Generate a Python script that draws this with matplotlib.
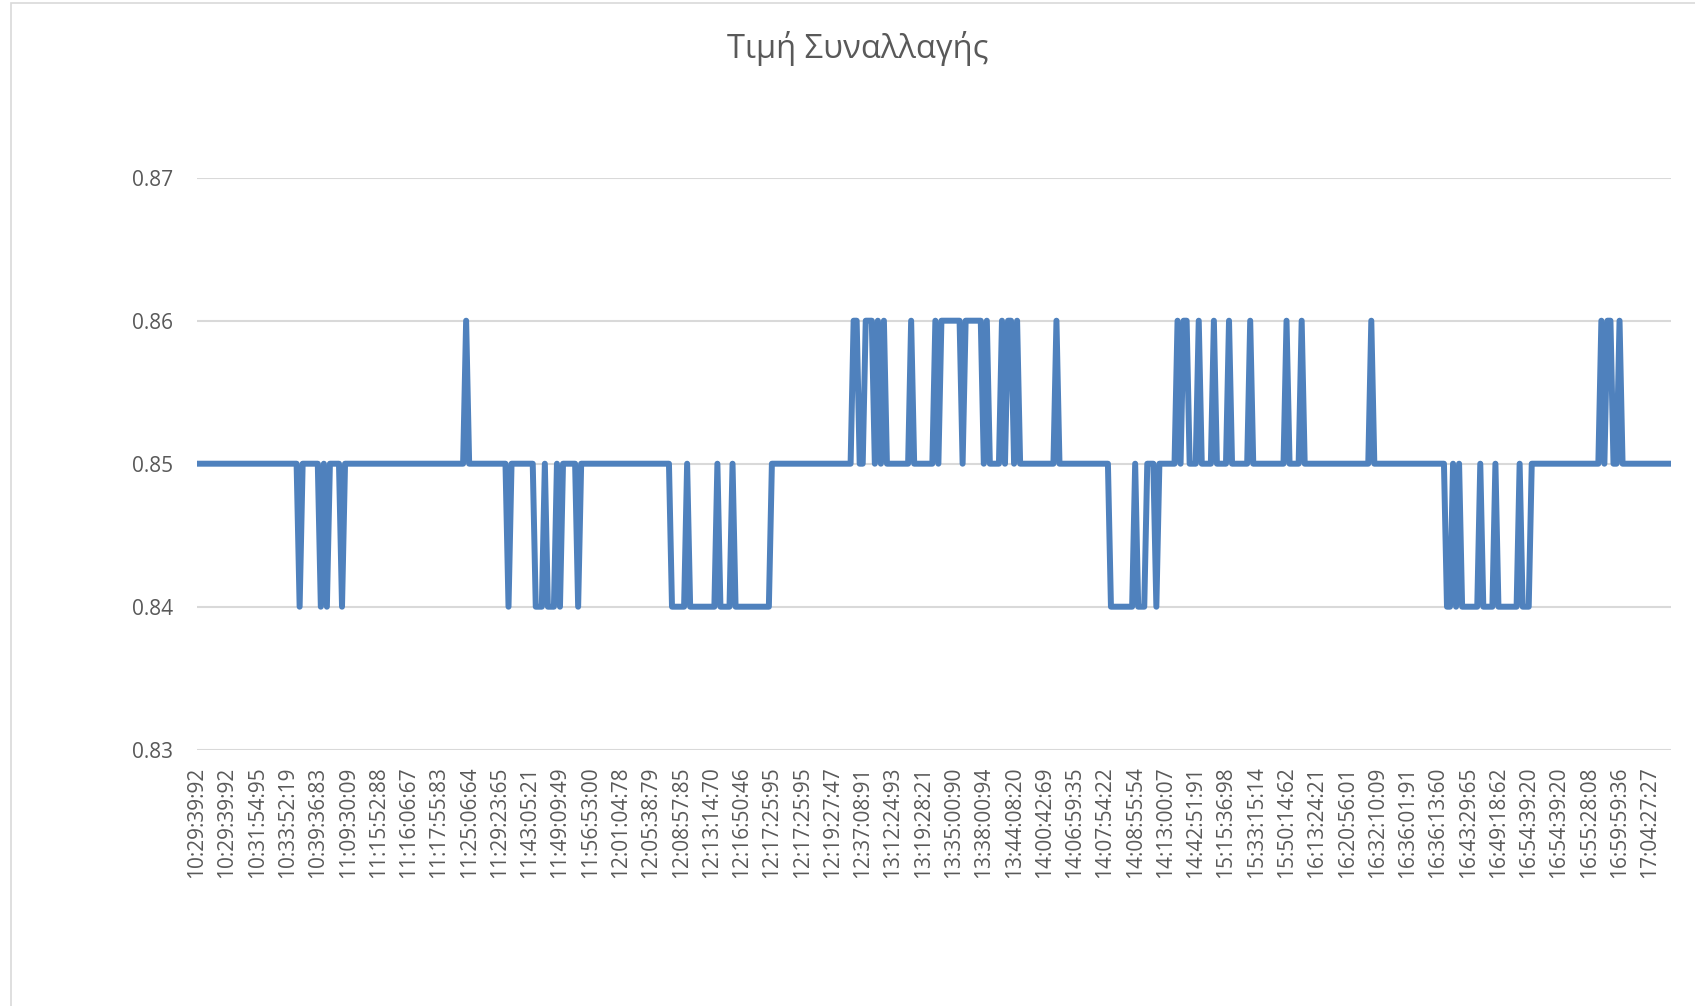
import matplotlib
matplotlib.use("Agg")
import matplotlib.pyplot as plt
from matplotlib.patches import Rectangle

# trade price per transaction (one value per trade, in order)
price = [
    0.85, 0.85, 0.85, 0.85, 0.85, 0.85, 0.85, 0.85, 0.85, 0.85,
    0.85, 0.85, 0.85, 0.85, 0.85, 0.85, 0.85, 0.85, 0.85, 0.85,
    0.85, 0.85, 0.85, 0.85, 0.85, 0.85, 0.85, 0.85, 0.85, 0.85,
    0.85, 0.85, 0.85, 0.85, 0.84, 0.85, 0.85, 0.85, 0.85, 0.85,
    0.85, 0.84, 0.85, 0.84, 0.85, 0.85, 0.85, 0.85, 0.84, 0.85,
    0.85, 0.85, 0.85, 0.85, 0.85, 0.85, 0.85, 0.85, 0.85, 0.85,
    0.85, 0.85, 0.85, 0.85, 0.85, 0.85, 0.85, 0.85, 0.85, 0.85,
    0.85, 0.85, 0.85, 0.85, 0.85, 0.85, 0.85, 0.85, 0.85, 0.85,
    0.85, 0.85, 0.85, 0.85, 0.85, 0.85, 0.85, 0.85, 0.85, 0.86,
    0.85, 0.85, 0.85, 0.85, 0.85, 0.85, 0.85, 0.85, 0.85, 0.85,
    0.85, 0.85, 0.85, 0.84, 0.85, 0.85, 0.85, 0.85, 0.85, 0.85,
    0.85, 0.85, 0.84, 0.84, 0.84, 0.85, 0.84, 0.84, 0.84, 0.85,
    0.84, 0.85, 0.85, 0.85, 0.85, 0.85, 0.84, 0.85, 0.85, 0.85,
    0.85, 0.85, 0.85, 0.85, 0.85, 0.85, 0.85, 0.85, 0.85, 0.85,
    0.85, 0.85, 0.85, 0.85, 0.85, 0.85, 0.85, 0.85, 0.85, 0.85,
    0.85, 0.85, 0.85, 0.85, 0.85, 0.85, 0.85, 0.84, 0.84, 0.84,
    0.84, 0.84, 0.85, 0.84, 0.84, 0.84, 0.84, 0.84, 0.84, 0.84,
    0.84, 0.84, 0.85, 0.84, 0.84, 0.84, 0.84, 0.85, 0.84, 0.84,
    0.84, 0.84, 0.84, 0.84, 0.84, 0.84, 0.84, 0.84, 0.84, 0.84,
    0.85, 0.85, 0.85, 0.85, 0.85, 0.85, 0.85, 0.85, 0.85, 0.85,
    0.85, 0.85, 0.85, 0.85, 0.85, 0.85, 0.85, 0.85, 0.85, 0.85,
    0.85, 0.85, 0.85, 0.85, 0.85, 0.85, 0.85, 0.86, 0.86, 0.85,
    0.85, 0.86, 0.86, 0.86, 0.85, 0.86, 0.85, 0.86, 0.85, 0.85,
    0.85, 0.85, 0.85, 0.85, 0.85, 0.85, 0.86, 0.85, 0.85, 0.85,
    0.85, 0.85, 0.85, 0.85, 0.86, 0.85, 0.86, 0.86, 0.86, 0.86,
    0.86, 0.86, 0.86, 0.85, 0.86, 0.86, 0.86, 0.86, 0.86, 0.86,
    0.85, 0.86, 0.85, 0.85, 0.85, 0.85, 0.86, 0.85, 0.86, 0.86,
    0.85, 0.86, 0.85, 0.85, 0.85, 0.85, 0.85, 0.85, 0.85, 0.85,
    0.85, 0.85, 0.85, 0.85, 0.86, 0.85, 0.85, 0.85, 0.85, 0.85,
    0.85, 0.85, 0.85, 0.85, 0.85, 0.85, 0.85, 0.85, 0.85, 0.85,
    0.85, 0.85, 0.84, 0.84, 0.84, 0.84, 0.84, 0.84, 0.84, 0.84,
    0.85, 0.84, 0.84, 0.84, 0.85, 0.85, 0.85, 0.84, 0.85, 0.85,
    0.85, 0.85, 0.85, 0.85, 0.86, 0.85, 0.86, 0.86, 0.85, 0.85,
    0.85, 0.86, 0.85, 0.85, 0.85, 0.85, 0.86, 0.85, 0.85, 0.85,
    0.85, 0.86, 0.85, 0.85, 0.85, 0.85, 0.85, 0.85, 0.86, 0.85,
    0.85, 0.85, 0.85, 0.85, 0.85, 0.85, 0.85, 0.85, 0.85, 0.85,
    0.86, 0.85, 0.85, 0.85, 0.85, 0.86, 0.85, 0.85, 0.85, 0.85,
    0.85, 0.85, 0.85, 0.85, 0.85, 0.85, 0.85, 0.85, 0.85, 0.85,
    0.85, 0.85, 0.85, 0.85, 0.85, 0.85, 0.85, 0.85, 0.86, 0.85,
    0.85, 0.85, 0.85, 0.85, 0.85, 0.85, 0.85, 0.85, 0.85, 0.85,
    0.85, 0.85, 0.85, 0.85, 0.85, 0.85, 0.85, 0.85, 0.85, 0.85,
    0.85, 0.85, 0.85, 0.84, 0.84, 0.85, 0.84, 0.85, 0.84, 0.84,
    0.84, 0.84, 0.84, 0.84, 0.85, 0.84, 0.84, 0.84, 0.84, 0.85,
    0.84, 0.84, 0.84, 0.84, 0.84, 0.84, 0.84, 0.85, 0.84, 0.84,
    0.84, 0.85, 0.85, 0.85, 0.85, 0.85, 0.85, 0.85, 0.85, 0.85,
    0.85, 0.85, 0.85, 0.85, 0.85, 0.85, 0.85, 0.85, 0.85, 0.85,
    0.85, 0.85, 0.85, 0.85, 0.86, 0.85, 0.86, 0.86, 0.85, 0.85,
    0.86, 0.85, 0.85, 0.85, 0.85, 0.85, 0.85, 0.85, 0.85, 0.85,
    0.85, 0.85, 0.85, 0.85, 0.85, 0.85, 0.85, 0.85,
]

# category labels shown on the axis (every 10th trade)
time_labels = [
    "10:29:39:92", "10:29:39:92", "10:31:54:95", "10:33:52:19", "10:39:36:83",
    "11:09:30:09", "11:15:52:88", "11:16:06:67", "11:17:55:83", "11:25:06:64",
    "11:29:23:65", "11:43:05:21", "11:49:09:49", "11:56:53:00", "12:01:04:78",
    "12:05:38:79", "12:08:57:85", "12:13:14:70", "12:16:50:46", "12:17:25:95",
    "12:17:25:95", "12:19:27:47", "12:37:08:91", "13:12:24:93", "13:19:28:21",
    "13:35:00:90", "13:38:00:94", "13:44:08:20", "14:00:42:69", "14:06:59:35",
    "14:07:54:22", "14:08:55:54", "14:13:00:07", "14:42:51:91", "15:15:36:98",
    "15:33:15:14", "15:50:14:62", "16:13:24:21", "16:20:56:01", "16:32:10:09",
    "16:36:01:91", "16:36:13:60", "16:43:29:65", "16:49:18:62", "16:54:39:20",
    "16:54:39:20", "16:55:28:08", "16:59:59:36", "17:04:27:27",
]
label_step = 10
y_ticks = [0.83, 0.84, 0.85, 0.86, 0.87]
title = "Τιμή Συναλλαγής"

TEXT = "#595959"
GRID = "#D9D9D9"
LINE = "#4F81BD"
plt.rcParams["font.family"] = ["Open Sans", "DejaVu Sans"]

W, H = 1695, 1006
fig = plt.figure(figsize=(W / 100, H / 100), dpi=100)
fig.patches.append(Rectangle((10.8 / W, -0.1), 1.2, 1 - 3.2 / H + 0.1,
                             transform=fig.transFigure, fill=False,
                             edgecolor=GRID, lw=1.2))

left, right, top, bottom = 196.7, 1671.0, 177.7, 749.7
ax = fig.add_axes([left / W, 1 - bottom / H, (right - left) / W, (bottom - top) / H])

x = list(range(len(price)))
ax.plot(x, price, color=LINE, lw=4.3, solid_joinstyle="round",
        solid_capstyle="round", zorder=3)

ax.set_xlim(0, len(price) - 1)
ax.set_ylim(y_ticks[0], y_ticks[-1])
ax.set_yticks(y_ticks)
ax.set_yticklabels([f"{v:.2f}" for v in y_ticks])
ax.set_xticks(list(range(0, len(price), label_step))[:len(time_labels)])
ax.set_xticklabels(time_labels, rotation=90)
ax.grid(axis="y", color=GRID, lw=1.5)
ax.set_axisbelow(True)
for s in ax.spines.values():
    s.set_visible(False)
ax.tick_params(axis="both", length=0, colors=TEXT, labelsize=15)
ax.tick_params(axis="y", pad=17)
ax.tick_params(axis="x", pad=12)

fig.text(858 / W, 1 - 48.6 / H, title, ha="center", va="center",
         fontsize=23.5, color=TEXT)

fig.savefig("out.png", dpi=100)
